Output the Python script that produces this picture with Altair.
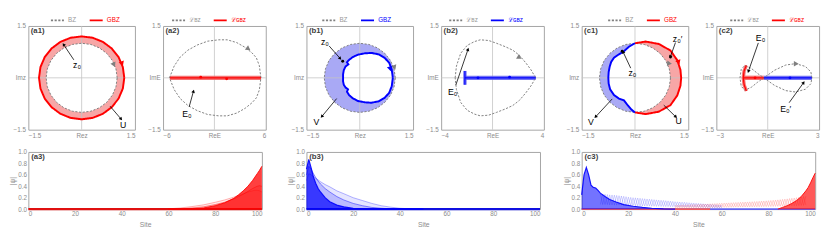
import math
import altair as alt
import pandas as pd

FONT = "Liberation Sans"
TXT = "#8c8c8c"
FRAME = "#a3a3a3"
GREYC = "#7f7f7f"
RED = "#ff0000"
BLUE = "#0000ff"
PINK = "#f7a6a6"
LBLUE = "#a9a9f5"
GRIDC = "#c4c4c4"

P1W, P2W, TOPH = 110, 106, 107
P3W, P3H = 241, 59

# ---------------- data ----------------
UC_COS = [1.0, 0.966, 0.866, 0.707, 0.5, 0.259, 0.0, -0.259, -0.5, -0.707, -0.866, -0.966,
          -1.0, -0.966, -0.866, -0.707, -0.5, -0.259, 0.0, 0.259, 0.5, 0.707, 0.866, 0.966]
UC_SIN = [0.0, 0.259, 0.5, 0.707, 0.866, 0.966, 1.0, 0.966, 0.866, 0.707, 0.5, 0.259,
          0.0, -0.259, -0.5, -0.707, -0.866, -0.966, -1.0, -0.966, -0.866, -0.707, -0.5, -0.259]
BZ_R = 1.0
A1_GBZ_R = 1.2

# (a1)
A1_ARROW = ([-0.22, 0.80], [0.52, -0.82], [-0.50, 1.10], [0.95, -1.18])
A1_TEXT = (["z₀", "U"], [-0.13, 1.17], [0.36, -1.38])
A1_HEADS = ([0.90, 1.13], [0.40, 0.43], [156, 160], [GREYC, RED])

# (a2)
A2_LBZ_X = [-5.25, -4.7, -4.0, -3.1, -2.0, -0.8, 0.5, 1.5, 2.6, 3.6, 4.4, 4.9, 5.25, 5.43]
A2_LBZ_Y = [0.0, 0.34, 0.6, 0.8, 0.95, 1.06, 1.1, 1.1, 1.02, 0.88, 0.72, 0.58, 0.35, 0.0]
A2_LGBZ_X = [-5.2, 5.45]
A2_LGBZ_Y = [0.0, 0.0]
A2_DOTS = ([-1.6, 1.43], [0.02, -0.03], [RED, RED])
A2_ARROW = ([-2.95], [-0.84], [-2.46], [-0.40])
A2_TEXT = (["E₀"], [-3.2], [-1.05])
A2_HEADS = ([3.9], [0.85], [125], [GREYC])

# (b1)
B1_GBZ_X = [0.93, 0.90, 0.83, 0.70, 0.53, 0.33, 0.15, -0.05, -0.20, -0.30, -0.36, -0.32, -0.40, -0.45,
            -0.47, -0.47, -0.47, -0.45, -0.40, -0.33, -0.36, -0.30, -0.20, -0.05, 0.15, 0.33, 0.53,
            0.70, 0.83, 0.90, 0.93]
B1_GBZ_Y = [0.0, 0.24, 0.43, 0.58, 0.68, 0.72, 0.71, 0.67, 0.60, 0.52, 0.45, 0.39, 0.33, 0.22,
            0.10, 0.0, -0.10, -0.20, -0.28, -0.33, -0.40, -0.50, -0.59, -0.67, -0.71, -0.72, -0.68,
            -0.58, -0.43, -0.24, 0.0]
B1_ARROW = ([-0.86, -0.65], [0.92, -0.60], [-0.56, -1.06], [0.57, -1.11])
B1_TEXT = (["z₀", "V"], [-0.98, -1.22], [1.04, -1.27])
B1_DOTS = ([-0.48], [0.48], ["black"])
B1_HEADS = ([0.97, 0.85], [0.32, 0.28], [160, 165], [GREYC, BLUE])

# (b2)
B2_LBZ_X = [-2.91, -2.81, -2.48, -1.97, -1.4, -0.95, -0.3, 0.31, 1.0, 1.58, 2.1, 2.6, 3.0, 3.36]
B2_LBZ_Y = [0.0, 0.34, 0.71, 0.94, 1.05, 1.1, 1.08, 1.0, 0.9, 0.8, 0.65, 0.43, 0.23, 0.0]
B2_LGBZ_V_X = [-2.15, -2.15]
B2_LGBZ_V_Y = [0.2, -0.2]
B2_LGBZ_H_X = [-2.15, 3.37]
B2_LGBZ_H_Y = [0.0, 0.0]
B2_DOTS = ([-1.13, 1.33], [0.0, 0.02], [BLUE, BLUE])
B2_ARROW = ([-2.86], [-0.21], [-1.92], [0.81])
B2_TEXT = (["E₀"], [-3.1], [-0.42])
B2_HEADS = ([2.05], [0.6], [120], [GREYC])

# (c1)
C1_BLUE_X = [0.0, -0.17, -0.31, -0.45, -0.59, -0.67, -0.71, -0.74, -0.75, -0.74, -0.70, -0.59,
             -0.45, -0.31, -0.20, -0.10, 0.0]
C1_BLUE_Y = [1.0, 0.9, 0.77, 0.68, 0.58, 0.46, 0.33, 0.17, 0.0, -0.17, -0.33, -0.5, -0.6, -0.65,
             -0.8, -0.92, -1.0]
C1_RED_X = [0.0, 0.3, 0.67, 1.0, 1.19, 1.28, 1.3, 1.28, 1.19, 1.0, 0.67, 0.3, 0.0]
C1_RED_Y = [1.0, 1.05, 0.98, 0.79, 0.51, 0.23, 0.0, -0.23, -0.51, -0.79, -0.98, -1.05, -1.0]
C1_ARROW = ([1.14, -0.12, -0.64, 0.81], [1.02, 0.28, -0.61, -0.79],
            [1.0, -0.33, -1.10, 1.14], [0.62, 0.74, -1.12, -1.12])
C1_TEXT = (["z₀′", "z₀", "V", "U"], [1.2, -0.07, -1.24, 1.23], [1.13, 0.13, -1.27, -1.24])
C1_DOTS = ([1.0, -0.36], [0.6, 0.77], ["black", "black"])
C1_HEADS = ([0.95, 1.22], [0.42, 0.47], [336, 160], [GREYC, RED])

# (c2)
C2_LBZ_X = [2.58, 2.52, 2.2, 1.62, 1.05, 0.4, -0.23, -0.6, -0.95, -1.34, -1.55, -1.62, -1.55, -1.34,
            -0.95, -0.6, -0.23, 0.4, 1.05, 1.62, 2.2, 2.52, 2.58]
C2_LBZ_Y = [0.0, 0.17, 0.33, 0.41, 0.37, 0.22, 0.0, -0.13, -0.27, -0.36, -0.24, 0.0, 0.24, 0.36,
            0.27, 0.13, 0.0, -0.22, -0.37, -0.41, -0.33, -0.17, 0.0]
C2_RED_ARC_X = [-1.25, -1.38, -1.43, -1.38, -1.25]
C2_RED_ARC_Y = [0.36, 0.2, 0.0, -0.2, -0.38]
C2_RED_H_X = [-1.43, -0.23]
C2_BLUE_H_X = [-0.23, 2.58]
C2_DOTS = ([-0.74, 1.3], [0.0, 0.0], [RED, BLUE])
C2_ARROW = ([-0.55, 1.25], [1.01, -0.72], [-1.12, 2.08], [0.2, -0.15])
C2_TEXT = (["E₀", "E₀′"], [-0.42, 1.05], [1.16, -0.9])
C2_HEADS = ([1.62], [0.41], [90], [GREYC])

# axis end labels
Z_LABELS = ("−1.5", "1.5")
A2_XLABELS = ("−6", "6")
B2_XLABELS = ("−4", "4")
C2_XLABELS = ("−3", "3")

# (a3) right-localized red states
A3_SITES = [60, 65, 70, 75, 80, 84, 88, 90, 92, 94, 96, 97, 98, 99, 100]
A3_FAINT1 = [0.005, 0.02, 0.045, 0.075, 0.12, 0.16, 0.21, 0.24, 0.27, 0.30, 0.32, 0.33, 0.33, 0.32, 0.30]
A3_FAINT2 = [0.0, 0.005, 0.02, 0.04, 0.08, 0.12, 0.18, 0.22, 0.26, 0.31, 0.36, 0.38, 0.40, 0.41, 0.40]
A3_DENSE = [0.0, 0.0, 0.005, 0.02, 0.06, 0.11, 0.19, 0.25, 0.32, 0.40, 0.50, 0.56, 0.62, 0.68, 0.75]

# (b3) left-localized blue states
B3_SITES = [0, 1, 2, 3, 4, 5, 6, 8, 10, 13, 16, 20, 24, 28, 32, 36, 40, 45, 50]
B3_FAINT1 = [0.50, 0.62, 0.60, 0.57, 0.54, 0.51, 0.48, 0.43, 0.39, 0.32, 0.27, 0.20, 0.15, 0.10, 0.06,
             0.035, 0.015, 0.005, 0.0]
B3_FAINT2 = [0.60, 0.75, 0.70, 0.62, 0.55, 0.49, 0.44, 0.36, 0.30, 0.22, 0.16, 0.10, 0.06, 0.03,
             0.015, 0.005, 0.0, 0.0, 0.0]
B3_DENSE = [0.70, 0.87, 0.72, 0.56, 0.45, 0.36, 0.30, 0.20, 0.13, 0.07, 0.04, 0.015, 0.005, 0.0, 0.0,
            0.0, 0.0, 0.0, 0.0]

# (c3) both ends
C3_B_SITES = [0, 1, 2, 3, 4, 5, 6, 7, 8, 10, 12, 15, 18, 22, 26, 30, 35, 40]
C3_B_DENSE = [0.25, 0.6, 0.73, 0.6, 0.42, 0.38, 0.37, 0.33, 0.28, 0.22, 0.17, 0.12, 0.08, 0.05, 0.03,
              0.015, 0.005, 0.0]
C3_BEAD_B_SITES = list(range(8, 61))
C3_BEAD_B1 = [0.27, 0.08, 0.26, 0.08, 0.25, 0.075, 0.245, 0.07, 0.235, 0.07, 0.225, 0.065, 0.21, 0.065,
              0.2, 0.06, 0.195, 0.058, 0.185, 0.055, 0.178, 0.053, 0.17, 0.05, 0.162, 0.048, 0.155,
              0.046, 0.148, 0.044, 0.14, 0.042, 0.13, 0.04, 0.125, 0.038, 0.12, 0.036, 0.112, 0.034,
              0.106, 0.032, 0.1, 0.03, 0.094, 0.028, 0.088, 0.026, 0.082, 0.024, 0.076, 0.022, 0.07]
C3_BEAD_B2 = [0.08, 0.265, 0.08, 0.255, 0.075, 0.248, 0.07, 0.24, 0.07, 0.23, 0.065, 0.218, 0.065,
              0.205, 0.06, 0.198, 0.058, 0.19, 0.055, 0.182, 0.053, 0.174, 0.05, 0.166, 0.048, 0.158,
              0.046, 0.152, 0.044, 0.144, 0.042, 0.135, 0.04, 0.128, 0.038, 0.122, 0.036, 0.116, 0.034,
              0.109, 0.032, 0.103, 0.03, 0.097, 0.028, 0.091, 0.026, 0.085, 0.024, 0.079, 0.022, 0.073,
              0.02]
C3_BEAD_R_SITES = list(range(40, 97))
C3_BEAD_R1 = [0.07, 0.02, 0.072, 0.022, 0.075, 0.022, 0.078, 0.023, 0.082, 0.025, 0.085, 0.026, 0.088,
              0.027, 0.092, 0.028, 0.096, 0.029, 0.1, 0.03, 0.104, 0.031, 0.108, 0.032, 0.112, 0.034,
              0.116, 0.035, 0.12, 0.036, 0.124, 0.038, 0.128, 0.039, 0.132, 0.04, 0.137, 0.042, 0.142,
              0.043, 0.148, 0.045, 0.155, 0.047, 0.162, 0.05, 0.17, 0.052, 0.18, 0.055, 0.19, 0.058,
              0.2, 0.062, 0.215, 0.066, 0.23]
C3_BEAD_R2 = [0.02, 0.071, 0.021, 0.074, 0.022, 0.077, 0.023, 0.08, 0.024, 0.083, 0.025, 0.087, 0.027,
              0.09, 0.028, 0.094, 0.029, 0.098, 0.03, 0.102, 0.031, 0.106, 0.032, 0.11, 0.033, 0.114,
              0.035, 0.118, 0.036, 0.122, 0.037, 0.126, 0.039, 0.13, 0.04, 0.134, 0.041, 0.14, 0.043,
              0.145, 0.044, 0.151, 0.046, 0.158, 0.048, 0.166, 0.051, 0.175, 0.054, 0.185, 0.057, 0.195,
              0.06, 0.207, 0.064, 0.222, 0.07]
C3_R_SITES = [84, 86, 88, 90, 92, 94, 96, 97, 98, 99, 100]
C3_R_DENSE = [0.0, 0.03, 0.06, 0.1, 0.15, 0.22, 0.32, 0.38, 0.46, 0.55, 0.63]

BASE_FULL = [0, 100]
BASE_ZERO = [0.0, 0.0]


# ---------------- helpers ----------------
def circle(r):
    return [r * c for c in UC_COS] + [r * UC_COS[0]], [r * s for s in UC_SIN] + [r * UC_SIN[0]]


def mirror(xs, ys):
    return xs + xs[-2::-1], ys + [-v for v in ys[-2::-1]]


def path(xs, ys, series="", piece="p", sw=1.0):
    return pd.DataFrame({"x": xs, "y": ys, "i": list(range(len(xs))),
                         "series": series, "piece": piece, "sw": sw})


AX = dict(title=None, grid=False, domain=False, ticks=False, labelFont=FONT,
          labelFontSize=6.5, labelColor=TXT, labelOverlap=False)


def end_expr(mid, lo, hi):
    return "datum.value == 0 ? '%s' : (datum.value < 0 ? '%s' : '%s')" % (mid, lo, hi)


def legend(lx, gcol, is_L):
    kw = dict(title=None, orient="none", legendX=lx, legendY=-14, direction="horizontal",
              symbolType="stroke", symbolSize=180, symbolStrokeWidth=1.8, symbolOpacity=0.75,
              labelFont=FONT, labelFontSize=6.5, labelOffset=3, columnPadding=9, padding=0,
              labelColor={"expr": "datum.value == 'GBZ' ? '%s' : '#999999'" % gcol})
    if is_L:
        kw["labelExpr"] = "datum.value == 'BZ' ? 'ℒʙᴢ' : 'ℒɢʙᴢ'"
    return alt.Legend(**kw)


def top_panel(p):
    xd = p["xdom"]
    w = p["w"]
    xl = p["xlabels"]
    xax = alt.Axis(values=[xd[0], 0, xd[1]], labelPadding=3,
                   labelExpr=end_expr(p["xname"], xl[0], xl[1]), **AX)
    yax = alt.Axis(values=[-1.5, 0, 1.5], labelPadding=3, minExtent=p["yext"], maxExtent=p["yext"],
                   labelExpr=end_expr(p["yname"], Z_LABELS[0], Z_LABELS[1]), **AX)
    X = alt.X("x:Q", scale=alt.Scale(domain=list(xd), nice=False, zero=False), axis=xax)
    Y = alt.Y("y:Q", scale=alt.Scale(domain=[-1.5, 1.5], nice=False, zero=False), axis=yax)
    sx = w / (xd[1] - xd[0])
    sy = TOPH / 3.0
    layers = []
    for xs, ys, col in p.get("fills", []):
        layers.append(alt.Chart(path(xs, ys)).mark_line(fill=col, stroke="transparent", strokeWidth=0)
                      .encode(x=X, y=Y, order="i:Q"))
    layers.append(alt.Chart(pd.DataFrame({"x": [0.0]})).mark_rule(color=GRIDC, strokeWidth=1, opacity=0.8)
                  .encode(x=X))
    layers.append(alt.Chart(pd.DataFrame({"y": [0.0]})).mark_rule(color=GRIDC, strokeWidth=1, opacity=0.8)
                  .encode(y=Y))
    for xs, ys, col, sw, op in p.get("bands", []):
        layers.append(alt.Chart(path(xs, ys)).mark_line(color=col, strokeWidth=sw, opacity=op)
                      .encode(x=X, y=Y, order="i:Q"))
    curves = pd.concat([path(xs, ys, s, "%s%d" % (s, k), sw) for k, (xs, ys, s, sw) in enumerate(p["curves"])])
    lg = p["legend"]
    layers.append(alt.Chart(curves).mark_line().encode(
        x=X, y=Y, order="i:Q", detail="piece:N",
        color=alt.Color("series:N", scale=alt.Scale(domain=["BZ", "GBZ"], range=[GREYC, p["gcol"]]), legend=lg),
        strokeDash=alt.StrokeDash("series:N", scale=alt.Scale(domain=["BZ", "GBZ"], range=[[2.2, 1.6], [1, 0]]),
                                  legend=lg),
        strokeWidth=alt.StrokeWidth("sw:Q", scale=None, legend=None)))
    for xs, ys, col, sw in p.get("extra", []):
        layers.append(alt.Chart(path(xs, ys)).mark_line(color=col, strokeWidth=sw)
                      .encode(x=X, y=Y, order="i:Q"))
    hx, hy, ha, hc = p["heads"]
    layers.append(alt.Chart(pd.DataFrame({"x": hx, "y": hy, "ang": ha, "col": hc}))
                  .mark_point(shape="triangle", filled=True, size=32, opacity=1)
                  .encode(x=X, y=Y, angle=alt.Angle("ang:Q", scale=None), color=alt.Color("col:N", scale=None)))
    if "dots" in p:
        dx, dy, dc = p["dots"]
        layers.append(alt.Chart(pd.DataFrame({"x": dx, "y": dy, "col": dc}))
                      .mark_circle(size=9, opacity=1)
                      .encode(x=X, y=Y, color=alt.Color("col:N", scale=None)))
    ax1, ay1, ax2, ay2 = p["arrows"]
    layers.append(alt.Chart(pd.DataFrame({"x": ax1, "y": ay1, "x2": ax2, "y2": ay2}))
                  .mark_rule(color="black", strokeWidth=0.8)
                  .encode(x=X, y=Y, x2=alt.X2("x2:Q"), y2=alt.Y2("y2:Q")))
    angs = [math.degrees(math.atan2((b - a) * sx, (d - c) * sy)) % 360
            for a, b, c, d in zip(ax1, ax2, ay1, ay2)]
    layers.append(alt.Chart(pd.DataFrame({"x": ax2, "y": ay2, "ang": angs}))
                  .mark_point(shape="triangle", filled=True, color="black", size=14, opacity=1)
                  .encode(x=X, y=Y, angle=alt.Angle("ang:Q", scale=None)))
    tt, tx, ty = p["texts"]
    layers.append(alt.Chart(pd.DataFrame({"x": tx, "y": ty, "t": tt}))
                  .mark_text(font=FONT, fontSize=9, color="black")
                  .encode(x=X, y=Y, text="t:N"))
    layers.append(alt.Chart(pd.DataFrame({"x": [xd[0] + 2.5 / sx], "y": [1.5 - 1.5 / sy], "t": [p["tag"]]}))
                  .mark_text(font=FONT, fontSize=8, fontWeight="bold", color="#404040",
                             align="left", baseline="top")
                  .encode(x=X, y=Y, text="t:N"))
    return alt.layer(*layers).properties(width=w, height=TOPH)


def bottom_panel(q):
    xax = alt.Axis(values=[0, 20, 40, 60, 80, 100], title="Site", titleFont=FONT, titleFontSize=7,
                   titleFontWeight="normal", titleColor=TXT, titlePadding=3, labelPadding=2,
                   grid=False, domain=False, ticks=False, labelFont=FONT, labelFontSize=6.5,
                   labelColor=TXT)
    yax = alt.Axis(values=[0, 0.2, 0.4, 0.6, 0.8, 1.0], format=".1f", title="|ψ|", titleFont=FONT,
                   titleFontSize=7, titleFontWeight="normal", titleColor=TXT, titlePadding=2,
                   labelPadding=2, minExtent=11, maxExtent=11, grid=False, domain=False, ticks=False,
                   labelFont=FONT, labelFontSize=6.5, labelColor=TXT)
    X = alt.X("s:Q", scale=alt.Scale(domain=[0, 100], nice=False, zero=False), axis=xax)
    Y = alt.Y("v:Q", scale=alt.Scale(domain=[0, 1], nice=False), axis=yax)
    layers = []
    for s, v, col, aop, lop, sw in q["series"]:
        df = pd.DataFrame({"s": s, "v": v})
        if aop > 0:
            layers.append(alt.Chart(df).mark_area(color=col, opacity=aop).encode(x=X, y=Y))
        if lop > 0:
            layers.append(alt.Chart(df).mark_line(color=col, opacity=lop, strokeWidth=sw).encode(x=X, y=Y))
    layers.append(alt.Chart(pd.DataFrame({"s": [1.2], "v": [0.97], "t": [q["tag"]]}))
                  .mark_text(font=FONT, fontSize=8, fontWeight="bold", color="#404040",
                             align="left", baseline="top")
                  .encode(x=X, y=Y, text="t:N"))
    return alt.layer(*layers).properties(width=P3W, height=P3H)


# ---------------- panels ----------------
bz_x, bz_y = circle(BZ_R)
g_x, g_y = circle(A1_GBZ_R)

a1 = top_panel(dict(
    xdom=(-1.5, 1.5), w=P1W, xname="Rez", yname="Imz", xlabels=Z_LABELS, yext=20, tag="(a1)", gcol=RED,
    fills=[(g_x, g_y, PINK), (bz_x, bz_y, "white")],
    curves=[(bz_x, bz_y, "BZ", 1.0), (g_x, g_y, "GBZ", 2.0)],
    legend=legend(22, RED, False), heads=A1_HEADS, arrows=A1_ARROW, texts=A1_TEXT))

a2x, a2y = mirror(A2_LBZ_X, A2_LBZ_Y)
a2 = top_panel(dict(
    xdom=(-6, 6), w=P2W, xname="ReE", yname="ImE", xlabels=A2_XLABELS, yext=14, tag="(a2)", gcol=RED,
    bands=[(A2_LGBZ_X, A2_LGBZ_Y, "#f25a5a", 4.5, 0.85)],
    curves=[(a2x, a2y, "BZ", 1.0), (A2_LGBZ_X, A2_LGBZ_Y, "GBZ", 1.2)],
    legend=legend(8, RED, True), heads=A2_HEADS, dots=A2_DOTS, arrows=A2_ARROW, texts=A2_TEXT))

b1 = top_panel(dict(
    xdom=(-1.5, 1.5), w=P1W, xname="Rez", yname="Imz", xlabels=Z_LABELS, yext=20, tag="(b1)", gcol=BLUE,
    fills=[(bz_x, bz_y, LBLUE), (B1_GBZ_X, B1_GBZ_Y, "white")],
    curves=[(bz_x, bz_y, "BZ", 1.0), (B1_GBZ_X, B1_GBZ_Y, "GBZ", 2.0)],
    legend=legend(15, BLUE, False), heads=B1_HEADS, dots=B1_DOTS, arrows=B1_ARROW, texts=B1_TEXT))

b2x, b2y = mirror(B2_LBZ_X, B2_LBZ_Y)
b2 = top_panel(dict(
    xdom=(-4, 4), w=P2W, xname="ReE", yname="ImE", xlabels=B2_XLABELS, yext=14, tag="(b2)", gcol=BLUE,
    bands=[(B2_LGBZ_H_X, B2_LGBZ_H_Y, "#5a5af2", 4.5, 0.85), (B2_LGBZ_V_X, B2_LGBZ_V_Y, "#5a5af2", 3.5, 0.85)],
    curves=[(b2x, b2y, "BZ", 1.0), (B2_LGBZ_H_X, B2_LGBZ_H_Y, "GBZ", 1.2), (B2_LGBZ_V_X, B2_LGBZ_V_Y, "GBZ", 1.2)],
    legend=legend(7, BLUE, True), heads=B2_HEADS, dots=B2_DOTS, arrows=B2_ARROW, texts=B2_TEXT))

left_half_x = [BZ_R * c for c in UC_COS[6:19]]
left_half_y = [BZ_R * s for s in UC_SIN[6:19]]
right_half_x = [BZ_R * c for c in UC_COS[18:] + UC_COS[:7]]
right_half_y = [BZ_R * s for s in UC_SIN[18:] + UC_SIN[:7]]
c1_blue_poly = (left_half_x + C1_BLUE_X[::-1], left_half_y + C1_BLUE_Y[::-1], LBLUE)
c1_red_poly = (C1_RED_X + right_half_x, C1_RED_Y + right_half_y, PINK)
c1 = top_panel(dict(
    xdom=(-1.5, 1.5), w=P1W, xname="Rez", yname="Imz", xlabels=Z_LABELS, yext=20, tag="(c1)", gcol=RED,
    fills=[c1_blue_poly, c1_red_poly],
    curves=[(bz_x, bz_y, "BZ", 1.0), (C1_RED_X, C1_RED_Y, "GBZ", 2.0)],
    extra=[(C1_BLUE_X, C1_BLUE_Y, BLUE, 2.0)],
    legend=legend(26, RED, False), heads=C1_HEADS, dots=C1_DOTS, arrows=C1_ARROW, texts=C1_TEXT))

c2 = top_panel(dict(
    xdom=(-3, 3), w=P2W, xname="ReE", yname="ImE", xlabels=C2_XLABELS, yext=14, tag="(c2)", gcol=RED,
    bands=[(C2_BLUE_H_X, BASE_ZERO, "#5a5af2", 4.5, 0.85), (C2_RED_H_X, BASE_ZERO, "#f25a5a", 4.5, 0.85),
           (C2_RED_ARC_X, C2_RED_ARC_Y, "#f25a5a", 3.5, 0.85)],
    curves=[(C2_LBZ_X, C2_LBZ_Y, "BZ", 1.0), (C2_RED_H_X, BASE_ZERO, "GBZ", 1.2),
            (C2_RED_ARC_X, C2_RED_ARC_Y, "GBZ", 1.2)],
    extra=[(C2_BLUE_H_X, BASE_ZERO, BLUE, 1.2)],
    legend=legend(13, RED, True), heads=C2_HEADS, dots=C2_DOTS, arrows=C2_ARROW, texts=C2_TEXT))

a3 = bottom_panel(dict(tag="(a3)", series=[
    (BASE_FULL, BASE_ZERO, "#e01010", 0, 1, 2.5),
    (A3_SITES, A3_FAINT1, RED, 0.08, 0.3, 1.0),
    (A3_SITES, A3_FAINT2, RED, 0.15, 0.45, 1.0),
    (A3_SITES, A3_DENSE, RED, 0.75, 0.9, 1.0),
]))
b3 = bottom_panel(dict(tag="(b3)", series=[
    (BASE_FULL, BASE_ZERO, "#1010e0", 0, 1, 2.5),
    (B3_SITES, B3_FAINT1, BLUE, 0.1, 0.3, 1.0),
    (B3_SITES, B3_FAINT2, BLUE, 0.18, 0.45, 1.0),
    (B3_SITES, B3_DENSE, BLUE, 0.7, 0.9, 1.2),
]))
c3 = bottom_panel(dict(tag="(c3)", series=[
    (BASE_FULL, BASE_ZERO, "#6060f0", 0, 1, 2.0),
    ([0, 55], BASE_ZERO, "#f05a5a", 0, 1, 2.0),
    (C3_BEAD_B_SITES, C3_BEAD_B1, BLUE, 0, 0.18, 1.0),
    (C3_BEAD_B_SITES, C3_BEAD_B2, BLUE, 0, 0.18, 1.0),
    (C3_BEAD_R_SITES, C3_BEAD_R1, RED, 0, 0.18, 1.0),
    (C3_BEAD_R_SITES, C3_BEAD_R2, RED, 0, 0.18, 1.0),
    (C3_B_SITES, C3_B_DENSE, BLUE, 0.55, 0.9, 1.2),
    (C3_R_SITES, C3_R_DENSE, RED, 0.65, 0.9, 1.0),
]))


def indep(ch):
    return ch.resolve_scale(color="independent", strokeDash="independent").resolve_legend(
        color="independent", strokeDash="independent")


def group(p1, p2, p3):
    top = indep(alt.hconcat(p1, p2, spacing=11))
    return indep(alt.vconcat(top, p3, spacing=9))


chart = indep(alt.hconcat(group(a1, a2, a3), group(b1, b2, b3), group(c1, c2, c3), spacing=16))
chart = chart.properties(padding=0).configure_view(stroke=FRAME, strokeWidth=1)

chart.save("out.html", embed_options={"renderer": "svg", "actions": False})
